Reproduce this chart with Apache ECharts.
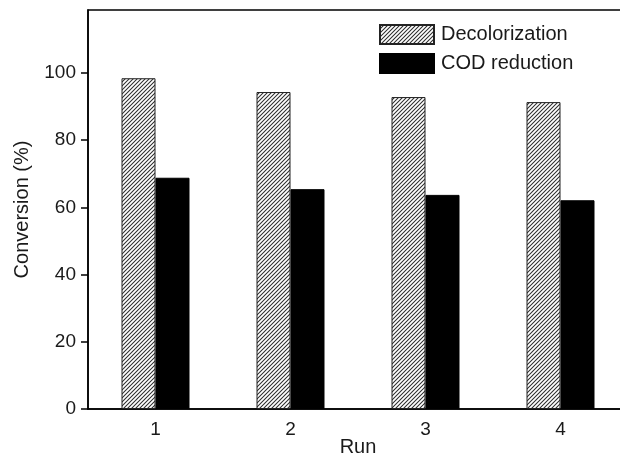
<!DOCTYPE html>
<html>
<head>
<meta charset="utf-8">
<script src="https://cdn.jsdelivr.net/npm/echarts@6/dist/echarts.min.js"></script>
<style>
  html, body { margin: 0; padding: 0; background: #fff; overflow: hidden; }
  #main { width: 620px; height: 460px; }
</style>
</head>
<body>
<div id="main"></div>
<script>
// data
var runs = ['1', '2', '3', '4'];
var decolorization = [98.4, 94.3, 92.8, 91.3];
var codReduction = [68.8, 65.4, 63.7, 62.1];
var yTicks = [0, 20, 40, 60, 80, 100];

// hatch tile for the decolorization bars
function hatchTile() {
  var c = document.createElement('canvas');
  c.width = 4;
  c.height = 4;
  var ctx = c.getContext('2d');
  ctx.fillStyle = '#fff';
  ctx.fillRect(0, 0, 4, 4);
  ctx.strokeStyle = '#2e2e2e';
  ctx.lineWidth = 1.05;
  ctx.beginPath();
  ctx.moveTo(-1, 5); ctx.lineTo(5, -1);
  ctx.moveTo(-1, 1); ctx.lineTo(1, -1);
  ctx.moveTo(3, 5); ctx.lineTo(5, 3);
  ctx.stroke();
  return c;
}

var chart = echarts.init(document.getElementById('main'), null, { renderer: 'canvas' });
var font = 'Liberation Sans';

var option = {
  backgroundColor: '#fff',
  textStyle: { fontFamily: font },
  animation: false,
  grid: {
    left: 88,
    top: 10,
    width: 540,
    height: 399,
    outerBoundsMode: 'none',
    containLabel: false,
    show: true,
    borderColor: '#000',
    borderWidth: 1.5
  },
  legend: {
    orient: 'vertical',
    left: 379,
    top: 24,
    padding: 0,
    itemWidth: 54,
    itemHeight: 19,
    itemGap: 8,
    icon: 'rect',
    textStyle: { fontFamily: font, fontSize: 20, color: '#1a1a1a', padding: [0, 0, 0, 2] },
    data: ['Decolorization', 'COD reduction']
  },
  xAxis: {
    type: 'category',
    data: runs,
    name: 'Run',
    nameLocation: 'middle',
    nameGap: 28,
    nameMoveOverlap: false,
    nameTextStyle: { fontFamily: font, fontSize: 20, color: '#1a1a1a' },
    axisLine: { lineStyle: { color: '#000', width: 1.5 } },
    axisTick: { show: false },
    axisLabel: { fontFamily: font, fontSize: 19, color: '#1a1a1a', margin: 11 }
  },
  yAxis: {
    type: 'value',
    min: 0,
    max: 118.7,
    interval: 20,
    name: 'Conversion (%)',
    nameLocation: 'middle',
    nameGap: 56,
    nameMoveOverlap: false,
    nameTextStyle: { fontFamily: font, fontSize: 20, color: '#1a1a1a' },
    splitLine: { show: false },
    axisLine: { show: true, lineStyle: { color: '#000', width: 1.5 } },
    axisTick: { show: true, length: 7, customValues: yTicks, lineStyle: { color: '#000', width: 1.5 } },
    axisLabel: { fontFamily: font, fontSize: 19, color: '#1a1a1a', margin: 12, customValues: yTicks }
  },
  series: [
    {
      name: 'Decolorization',
      type: 'bar',
      data: decolorization,
      barWidth: 34,
      barGap: '0%',
      itemStyle: {
        color: { image: hatchTile(), repeat: 'repeat' },
        borderColor: '#222',
        borderWidth: 1
      }
    },
    {
      name: 'COD reduction',
      type: 'bar',
      data: codReduction,
      barWidth: 34,
      barGap: '0%',
      itemStyle: { color: '#000', borderColor: '#000', borderWidth: 1 }
    }
  ]
};

chart.setOption(option);
</script>
</body>
</html>
